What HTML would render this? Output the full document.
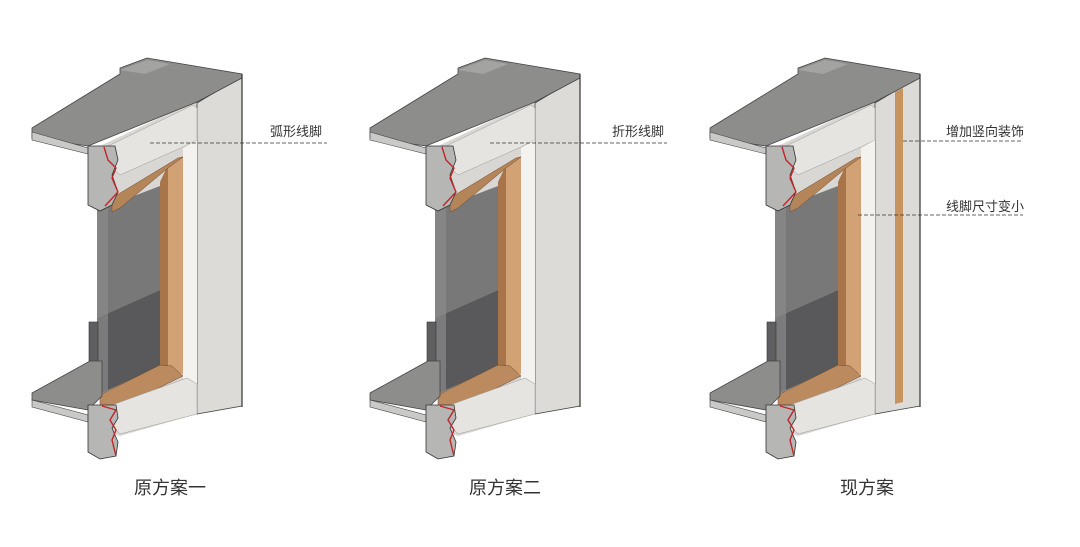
<!DOCTYPE html>
<html><head><meta charset="utf-8"><style>
html,body{margin:0;padding:0;background:#fff;}
svg{display:block;}
text{font-family:"Liberation Sans","Noto Sans CJK SC",sans-serif;fill:#333;}
</style></head><body>
<svg width="1080" height="547" viewBox="0 0 1080 547" xmlns="http://www.w3.org/2000/svg">
<defs>
<g id="unit">
  <!-- backing fill -->
  <polygon points="100,146 197,100 197,414 120,436 100,430" fill="#d9d7d3"/>
  <!-- wall front face -->
  <polygon points="197,103 242,76 242,406 197,414" fill="#dddbd7" stroke="#444" stroke-width="0.8"/>
  <!-- top slab top surface -->
  <polygon points="32,128 120,74 120,68 147,58 242,74 242,78 197,102 88,146 32,138" fill="#8d8d8c" stroke="#444" stroke-width="0.8"/>
  <polygon points="120,70 147,60 170,64 145,74" fill="#a3a3a1"/>
  <!-- slab front strip -->
  <polygon points="32,132 88,148 88,154 32,140" fill="#c9c9c7" stroke="#444" stroke-width="0.6"/>
  <!-- top molding band -->
  <polygon points="106,147 193,105 197,108 197,140 183,147 120,175 106,162" fill="#e6e4e0" stroke="#999" stroke-width="0.5"/>
  <!-- reveal -->
  <polygon points="183,148 197,140 197,414 183,380" fill="#f3f2ef"/>
  <!-- glass -->
  <polygon points="97,210 160,186 160,290 97,318" fill="#787879"/>
  <polygon points="97,318 160,290 160,366 100,394 97,394" fill="#59595b"/>
  <polygon points="97,210 108,206 108,394 97,394" fill="#8a8a8c" opacity="0.7"/>
  <rect x="89" y="322" width="9" height="72" fill="#5f5f61" stroke="#333" stroke-width="0.6"/>
  <!-- wood right jamb -->
  <polygon points="160,182 168,165 168,370 160,366" fill="#a8744a"/>
  <polygon points="168,165 183,156 183,374 168,370" fill="#d2a274"/>
  <!-- wood head -->
  <polygon points="112,198 178,158 183,157 168,168 120,208 112,212" fill="#b5855a" stroke="#6a4a30" stroke-width="0.5"/>
  <!-- wood sill -->
  <polygon points="100,395 160,365 172,366 183,376 122,406 100,406" fill="#bb8a5e" stroke="#6a4a30" stroke-width="0.5"/>
  <!-- top section block -->
  <polygon points="88,146 115,146 118,160 112,175 118,192 112,205 100,211 88,205" fill="#b6b6b4" stroke="#333" stroke-width="0.8"/>
  <polyline points="104,147 108,160 116,168 112,178 118,192 105,206" fill="none" stroke="#c0262a" stroke-width="1.4"/>
  <!-- bottom slab -->
  <polygon points="32,393 90,361 102,361 102,396 88,410 32,400" fill="#8d8d8c" stroke="#444" stroke-width="0.8"/>
  <polygon points="32,400 88,415 88,422 32,407" fill="#c9c9c7" stroke="#444" stroke-width="0.6"/>
  <!-- bottom molding -->
  <polygon points="112,405 187,378 197,384 197,414 120,434 112,426" fill="#e6e4e0" stroke="#999" stroke-width="0.5"/>
  <!-- bottom section block -->
  <polygon points="88,405 116,405 118,418 112,428 118,442 116,456 100,459 88,452" fill="#b6b6b4" stroke="#333" stroke-width="0.8"/>
  <polyline points="102,406 116,410 110,420 116,430 112,440 116,456" fill="none" stroke="#c0262a" stroke-width="1.4"/>
  <!-- right outline -->
  <line x1="242" y1="74" x2="242" y2="407" stroke="#333" stroke-width="1.2"/>
</g>
</defs>
<use href="#unit"/>
<use href="#unit" transform="translate(338,0)"/>
<use href="#unit" transform="translate(678,0)"/>
<!-- unit 3 vertical decoration -->
<polygon points="895,92 903,88 903,402 895,404" fill="#c9935f"/>
<!-- labels -->
<text x="270" y="136" font-size="13">弧形线脚</text>
<line x1="150" y1="143" x2="327" y2="143" stroke="#333" stroke-width="0.8" stroke-dasharray="4,2"/>
<text x="612" y="136" font-size="13">折形线脚</text>
<line x1="490" y1="143" x2="667" y2="143" stroke="#333" stroke-width="0.8" stroke-dasharray="4,2"/>
<text x="946" y="136" font-size="13">增加竖向装饰</text>
<line x1="903" y1="141" x2="1023" y2="141" stroke="#333" stroke-width="0.8" stroke-dasharray="4,2"/>
<text x="946" y="211" font-size="13">线脚尺寸变小</text>
<line x1="858" y1="215" x2="1023" y2="215" stroke="#333" stroke-width="0.8" stroke-dasharray="4,2"/>
<!-- captions -->
<text x="134" y="494" font-size="18">原方案一</text>
<text x="469" y="494" font-size="18">原方案二</text>
<text x="840" y="494" font-size="18">现方案</text>
</svg>
</body></html>
